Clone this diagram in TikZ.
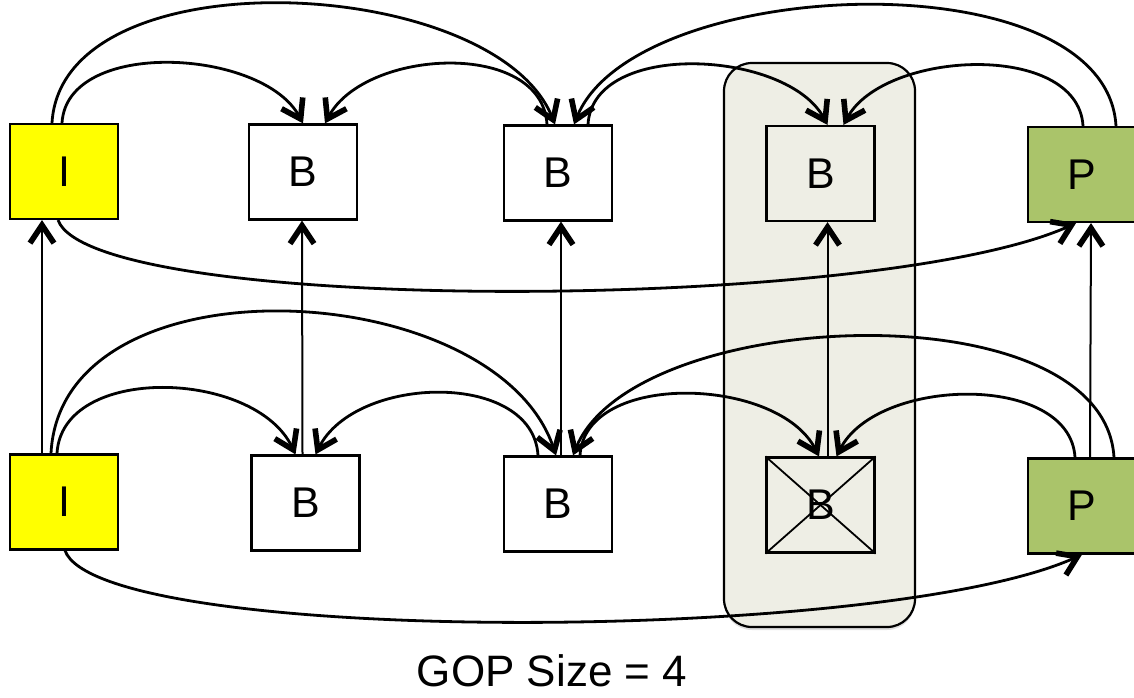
\documentclass[tikz,border=0pt]{standalone}
\usepackage{fontspec}
\setmainfont{Liberation Sans}
\usetikzlibrary{arrows.meta,shadows}
\definecolor{iyellow}{RGB}{255,255,0}
\definecolor{pgreen}{RGB}{170,196,106}
\definecolor{winfill}{RGB}{238,238,229}
\tikzstyle{picbox}=[draw,line width=1.1pt,minimum width=54pt,minimum height=47.5pt,inner sep=0pt,font=\fontsize{21.5}{25}\selectfont]
\tikzstyle{pred}=[->,line width=1.4pt]
\tikzstyle{vert}=[->,line width=1pt]
\tikzset{>={Straight Barb[length=9pt,width=12pt,line width=2.8pt]}}

\begin{document}
\begin{tikzpicture}[x=0.5pt,y=-0.5pt]
  \useasboundingbox (0,0) rectangle (1134,697);
  % dropped frame
  \node[draw,line width=1.1pt,fill=winfill,rounded corners=14pt,minimum width=95.5pt,minimum height=282pt,
        drop shadow={shadow xshift=0pt,shadow yshift=-1.5pt,opacity=0.25}] (win) at (819.5,345) {};

  % top row
  \node[picbox,fill=iyellow] (i1) at (64,171.5) {I};
  \node[picbox,fill=white]   (b1) at (303,172)  {B};
  \node[picbox,fill=white]   (b2) at (558,173)  {B};
  \node[picbox]              (b3) at (820.5,173.5) {B};
  \node[picbox,fill=pgreen]  (p1) at (1082,174.5) {P};

  % bottom row
  \node[picbox,fill=iyellow] (i2) at (64,502)    {I};
  \node[picbox,fill=white]   (b4) at (305.5,503) {B};
  \node[picbox,fill=white]   (b5) at (558,504)   {B};
  \node[picbox]              (b6) at (820.5,505) {B};
  \node[picbox,fill=pgreen]  (p2) at (1082,506)  {P};
  \draw[line width=0.9pt] (b6.south west) -- (b6.north east) (b6.north west) -- (b6.south east);

  \node[font=\fontsize{22}{26}\selectfont] (gopsize) at (552,671) {GOP Size = 4};

  \draw[pred] ([xshift=-6pt]i1.north) .. controls +(10,-170) and +(-60,-150) .. ([xshift=-1.5pt]b2.north);
  \draw[pred] ([xshift=17pt]p1.north) .. controls +(-10,-170) and +(60,-150) .. ([xshift=8pt]b2.north);
  \draw[pred] ([xshift=-1pt]i1.north) .. controls +(5,-85) and +(-40,-75) .. (b1.north);
  \draw[pred] ([xshift=-5.5pt]b2.north) .. controls +(-5,-85) and +(40,-75) .. ([xshift=11pt]b1.north);
  \draw[pred] ([xshift=15pt]b2.north) .. controls +(5,-85) and +(-40,-75) .. ([xshift=3.5pt]b3.north);
  \draw[pred] ([xshift=0.5pt]p1.north) .. controls +(-5,-85) and +(40,-75) .. ([xshift=11.5pt]b3.north);
  \draw[pred] ([xshift=-3pt]i1.south) .. controls +(35,95) and +(-200,90) .. ([xshift=-3pt]p1.south);

  \draw[pred] ([xshift=-6.5pt]i2.north) .. controls +(10,-200) and +(-60,-180) .. ([xshift=-1pt]b5.north);
  \draw[pred] ([xshift=16pt]p2.north) .. controls +(-10,-170) and +(60,-150) .. ([xshift=7.5pt]b5.north);
  \draw[pred] ([xshift=-3.5pt]i2.north) .. controls +(5,-90) and +(-40,-85) .. ([xshift=-5pt]b4.north);
  \draw[pred] ([xshift=-10pt]b5.north) .. controls +(-5,-85) and +(40,-80) .. ([xshift=5pt]b4.north);
  \draw[pred] ([xshift=11pt]b5.north) .. controls +(5,-85) and +(-40,-80) .. ([xshift=-0.75pt]b6.north);
  \draw[pred] ([xshift=-3.5pt]p2.north) .. controls +(-5,-85) and +(40,-80) .. ([xshift=8pt]b6.north);
  \draw[pred] ([xshift=0.5pt]i2.south) .. controls +(35,95) and +(-200,90) .. (p2.south);

  % bottom to top
  \draw[vert] ([xshift=-11pt]i2.north) -- ([xshift=-11pt]i1.south);
  \draw[vert] ([xshift=-1.5pt]b4.north) -- ([xshift=-0.5pt]b1.south);
  \draw[vert] ([xshift=1.5pt]b5.north) -- ([xshift=1.5pt]b2.south);
  \draw[vert] ([xshift=3.5pt]b6.north) -- ([xshift=3.5pt]b3.south);
  \draw[vert] ([xshift=4pt]p2.north) -- ([xshift=4.5pt]p1.south);
\end{tikzpicture}
\end{document}
